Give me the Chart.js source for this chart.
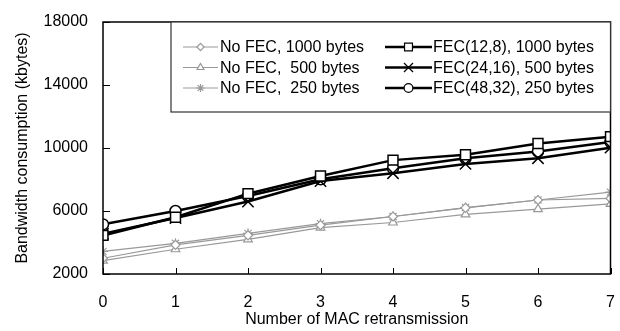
<!DOCTYPE html>
<html lang="en">
  <head>
    <meta charset="UTF-8" />
    <title>Bandwidth consumption</title>
    <style>
      html, body { margin: 0; padding: 0; background: #fff; }
      #wrap { width: 620px; height: 331px; }
    </style>
  </head>
  <body>
    <div id="wrap">
      <canvas id="myChart" width="620" height="331"></canvas>
    </div>

    <script src="https://cdn.jsdelivr.net/npm/chart.js"></script>
    <script>
      const retransmissions = [0, 1, 2, 3, 4, 5, 6, 7];

      const noFec1000 = [3000, 3850, 4450, 5100, 5650, 6200, 6700, 6800];
      const noFec500 = [2850, 3570, 4200, 4950, 5270, 5780, 6120, 6450];
      const noFec250 = [3430, 3950, 4580, 5200, 5650, 6220, 6700, 7200];
      const fec1000 = [4450, 5600, 7100, 8220, 9230, 9570, 10290, 10720];
      const fec500 = [4550, 5550, 6600, 7900, 8400, 8990, 9350, 10020];
      const fec250 = [5150, 6000, 6950, 8010, 8710, 9350, 9780, 10380];

      const seriesLabels = [
        "No FEC, 1000 bytes",
        "No FEC,  500 bytes",
        "No FEC,  250 bytes",
        "FEC(12,8), 1000 bytes",
        "FEC(24,16), 500 bytes",
        "FEC(48,32), 250 bytes",
      ];

      const FONT = "'Liberation Sans', Arial, sans-serif";
      const grey = "#999999";

      const toPoints = (arr) => arr.map((y, i) => ({ x: retransmissions[i], y }));

      const styles = [
        { color: grey, width: 1.2, point: "rectRot", r: 4.5, order: 2 },
        { color: grey, width: 1.2, point: "triangle", r: 5, order: 2 },
        { color: grey, width: 1.2, point: "star", r: 5, order: 2 },
        { color: "#000", width: 2.5, point: "rect", r: 7, order: 1 },
        { color: "#000", width: 2.5, point: "crossRot", r: 8, order: 1 },
        { color: "#000", width: 2.5, point: "circle", r: 5.5, order: 1 },
      ];

      const values = [noFec1000, noFec500, noFec250, fec1000, fec500, fec250];

      const datasets = values.map((arr, i) => ({
        label: seriesLabels[i],
        data: toPoints(arr),
        borderColor: styles[i].color,
        borderWidth: styles[i].width,
        pointStyle: styles[i].point,
        pointRadius: styles[i].r,
        pointBorderColor: styles[i].color,
        pointBackgroundColor: "#fff",
        pointBorderWidth: styles[i].color === grey ? 1.2 : 1.5,
        order: styles[i].order,
        tension: 0,
      }));

      // frame, inward ticks and the boxed legend
      const decorations = {
        id: "decorations",
        afterDatasetsDraw(chart) {
          const { ctx, chartArea: a, scales } = chart;
          ctx.save();
          ctx.strokeStyle = "#000";
          ctx.lineWidth = 1.5;
          ctx.beginPath();
          ctx.rect(a.left, a.top, a.right - a.left, a.bottom - a.top);
          ctx.stroke();

          ctx.lineWidth = 1;
          scales.y.ticks.forEach((t) => {
            const py = Math.round(scales.y.getPixelForValue(t.value)) + 0.5;
            ctx.beginPath();
            ctx.moveTo(a.left, py);
            ctx.lineTo(a.left + 7, py);
            ctx.stroke();
          });
          scales.x.ticks.forEach((t) => {
            const px = Math.round(scales.x.getPixelForValue(t.value)) + 0.5;
            ctx.beginPath();
            ctx.moveTo(px, a.bottom);
            ctx.lineTo(px, a.bottom - 6);
            ctx.stroke();
          });

          // legend box
          const box = { left: 171, top: a.top, right: a.right, bottom: 112 };
          ctx.fillStyle = "#fff";
          ctx.fillRect(box.left, box.top, box.right - box.left, box.bottom - box.top);
          ctx.strokeStyle = "#333";
          ctx.lineWidth = 1.2;
          ctx.strokeRect(box.left, box.top, box.right - box.left, box.bottom - box.top);

          const rows = [47, 67.5, 88];
          const cols = [
            { x0: 183, x1: 218, tx: 220 },
            { x0: 385, x1: 432, tx: 433 },
          ];
          ctx.font = "16px " + FONT;
          ctx.textBaseline = "middle";
          datasets.forEach((ds, i) => {
            const c = cols[Math.floor(i / 3)];
            const y = rows[i % 3];
            const s = styles[i];
            ctx.strokeStyle = s.color;
            ctx.lineWidth = s.width;
            ctx.beginPath();
            ctx.moveTo(c.x0, y);
            ctx.lineTo(c.x1, y);
            ctx.stroke();
            ctx.save();
            ctx.fillStyle = "#fff";
            ctx.lineWidth = 1.2;
            Chart.helpers.drawPoint(
              ctx,
              { pointStyle: s.point, radius: s.r * 0.8, borderWidth: 1.2 },
              (c.x0 + c.x1) / 2,
              y
            );
            ctx.restore();
            ctx.fillStyle = "#000";
            ctx.fillText(ds.label, c.tx, y + 1);
          });
          ctx.restore();
        },
      };

      const config = {
        type: "line",
        data: { datasets },
        options: {
          responsive: false,
          animation: false,
          devicePixelRatio: 1,
          layout: {
            padding: { top: 22, right: 7, left: 0, bottom: 0 },
          },
          plugins: {
            legend: { display: false },
            tooltip: { enabled: false },
          },
          scales: {
            x: {
              type: "linear",
              min: 0,
              max: 7,
              border: { display: false },
              grid: { display: false, drawTicks: false },
              ticks: {
                stepSize: 1,
                padding: 19,
                color: "#000",
                font: { family: FONT, size: 16 },
              },
              title: {
                display: true,
                text: "Number of MAC retransmission",
                color: "#000",
                font: { family: FONT, size: 16 },
                padding: { top: 0, bottom: 2 },
              },
              afterFit: (s) => {
                s.height = 57;
                s.paddingLeft = 0;
                s.paddingRight = 0;
              },
            },
            y: {
              min: 2000,
              max: 18000,
              border: { display: false },
              grid: { display: false, drawTicks: false },
              ticks: {
                stepSize: 4000,
                padding: 15,
                color: "#000",
                font: { family: FONT, size: 16 },
                callback: (v) => String(v),
              },
              title: {
                display: true,
                text: "Bandwidth consumption (kbytes)",
                color: "#000",
                font: { family: FONT, size: 16 },
                padding: { top: 13, bottom: 0 },
              },
              afterFit: (s) => {
                s.width = 103;
                s.paddingTop = 0;
                s.paddingBottom = 0;
              },
            },
          },
        },
        plugins: [decorations],
      };

      const myChart = new Chart(document.getElementById("myChart"), config);
    </script>
  </body>
</html>
